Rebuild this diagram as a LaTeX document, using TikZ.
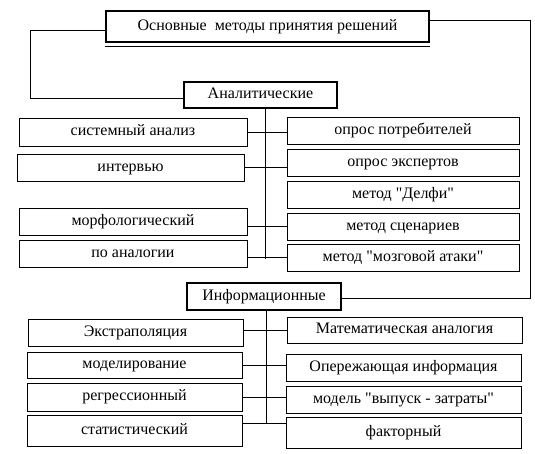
\documentclass[tikz,border=0pt]{standalone}
\usepackage{fontspec}
\setmainfont{Liberation Serif}
\newcommand{\qt}[1]{\textquotedbl#1\textquotedbl}

\tikzset{
  mbox/.style={draw, line width=0.8pt, inner sep=0pt, text height=11pt, text depth=3.5pt,
    font=\fontsize{16}{19}\selectfont},
  hbox/.style={mbox, line width=1.6pt},
  tbox/.style={mbox, line width=2.2pt},
  link/.style={line width=0.8pt}
}

\begin{document}
\begin{tikzpicture}[x=1pt,y=-1pt]
            \useasboundingbox (0,0) rectangle (535,453);

            \node[tbox, minimum width=323, minimum height=31] (top) at (267.5,26.5) {Основные\ \ методы принятия решений};
            \draw[line width=0.6pt] ([yshift=-3pt]top.south west) -- ([yshift=-3pt]top.south east);

            \node[hbox, minimum width=153, minimum height=26] (an) at (260.5,95) {Аналитические};
            \node[hbox, minimum width=154, minimum height=27] (inf) at (264,296.5) {Информационные};

            % analytic methods
            \node[mbox, minimum width=228, minimum height=28] (l1) at (133,132) {системный анализ};
            \node[mbox, minimum width=227, minimum height=27] (l2) at (130.5,167.5) {интервью};
            \node[mbox, minimum width=228, minimum height=27] (l3) at (133,221.5) {морфологический};
            \node[mbox, minimum width=228, minimum height=27] (l4) at (133,253.5) {по аналогии};

            \node[mbox, minimum width=232, minimum height=27] (r1) at (403,130.5) {опрос потребителей};
            \node[mbox, minimum width=232, minimum height=27] (r2) at (403,162.5) {опрос экспертов};
            \node[mbox, minimum width=232, minimum height=27] (r3) at (403,194.5) {метод \qt{Делфи}};
            \node[mbox, minimum width=232, minimum height=27] (r4) at (403,226.5) {метод сценариев};
            \node[mbox, minimum width=232, minimum height=27] (r5) at (403,257.5) {метод \qt{мозговой атаки}};

            % information methods
            \node[mbox, minimum width=215, minimum height=27] (i1) at (135.5,332.5) {Экстраполяция};
            \node[mbox, minimum width=215, minimum height=26] (i2) at (134.5,365) {моделирование};
            \node[mbox, minimum width=215, minimum height=28] (i3) at (134.5,397) {регрессионный};
            \node[mbox, minimum width=215, minimum height=31] (i4) at (134.5,430.5) {статистический};

            \node[mbox, minimum width=235, minimum height=26] (j1) at (404.5,330) {Математическая аналогия};
            \node[mbox, minimum width=235, minimum height=27] (j2) at (403.5,367.5) {Опережающая информация};
            \node[mbox, minimum width=235, minimum height=27] (j3) at (403.5,399.5) {модель \qt{выпуск - затраты}};
            \node[mbox, minimum width=235, minimum height=31] (j4) at (403.5,432.5) {факторный};

            \draw[link] ([yshift=-3.5pt]top.west) -- ++(-75,0) |- ([yshift=-3pt]an.west);
            \draw[link] ([yshift=6pt]top.east) -- ++(100,0) |- ([yshift=-1.5pt]inf.east);

            \coordinate (sa) at (265,259);
            \coordinate (si) at (266,423);
            \draw[link] (an.south -| sa) -- (sa);
            \draw[link] (inf.south -| si) -- (si);

            \draw[link] (l1.east) -- (l1.east -| r1.west);
            \draw[link] (l2.east) -- (l2.east -| r2.west);
            \draw[link] (r4.west) -- (r4.west -| l3.east);
            \draw[link] (r5.west) -- (r5.west -| l4.east);

            \draw[link] (j1.west) -- (j1.west -| i1.east);
            \draw[link] (i2.east) -- (i2.east -| j2.west);
            \draw[link] (i3.east) -- (i3.east -| j3.west);
            \draw[link] (i4.east |- si) -- (j4.west |- si);
        \end{tikzpicture}
\end{document}
